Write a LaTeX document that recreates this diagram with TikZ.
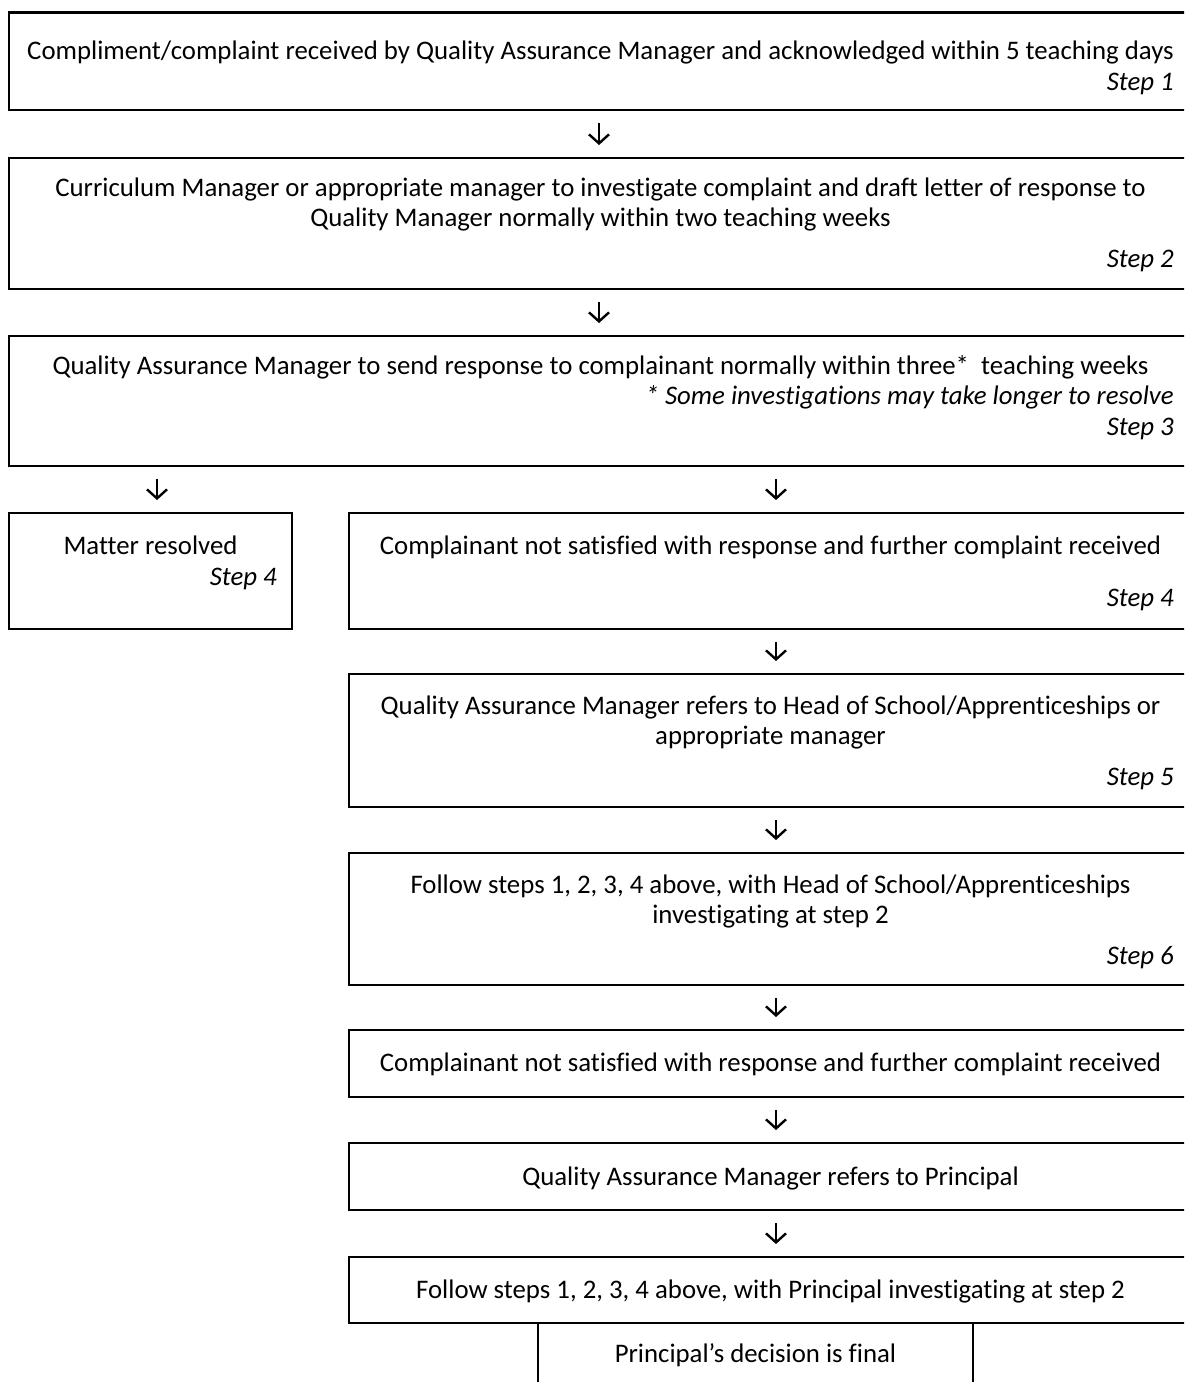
\documentclass[tikz,border=0pt]{standalone}
\usepackage{fontspec}
\setmainfont{Carlito}[Ligatures=NoCommon]
\usetikzlibrary{arrows.meta}
\newcommand\boxfont{\fontsize{26.8}{30}\selectfont}
\begin{document}
\begin{tikzpicture}[x=1pt,y=-1pt,
  box/.style={draw, line width=2.2pt, inner sep=0pt, outer sep=0pt, anchor=north west},
  txt/.style={inner sep=0pt, anchor=mid, font=\boxfont},
  stp/.style={inner sep=0pt, anchor=mid east, font=\boxfont\itshape},
  arr/.style={line width=2.4pt, -{Straight Barb[length=9pt,width=20pt]}, shorten <=13pt, shorten >=13pt}]
\useasboundingbox (0,0) rectangle (1184,1382);
\clip (0,0) rectangle (1184,1382);
% boxes
\node[box, minimum width=1183pt, minimum height=97.5pt] (b1) at (9,12.5) {};
\node[box, minimum width=1183pt, minimum height=131pt] (b2) at (9,158) {};
\node[box, minimum width=1183pt, minimum height=130pt] (b3) at (9,336) {};
\node[box, minimum width=283pt, minimum height=116pt] (b4l) at (9,513) {};
\node[box, minimum width=843pt, minimum height=116pt] (b4r) at (349,513) {};
\node[box, minimum width=843pt, minimum height=133pt] (b5) at (349,674) {};
\node[box, minimum width=843pt, minimum height=132pt] (b6) at (349,853) {};
\node[box, minimum width=843pt, minimum height=67pt] (b7) at (349,1030) {};
\node[box, minimum width=843pt, minimum height=67pt] (b8) at (349,1143) {};
\node[box, minimum width=843pt, minimum height=66pt] (b9) at (349,1257) {};
\node[box, minimum width=435pt, minimum height=77pt] (b10) at (538,1323) {};
% texts
\node[txt] (t1a) at (600.5,57) {Compliment/complaint received by Quality Assurance Manager and acknowledged within 5 teaching days};
\node[stp] (t1s) at (1174,88) {Step 1};
\node[txt] (t2a) at (600.5,194) {Curriculum Manager or appropriate manager to investigate complaint and draft letter of response to};
\node[txt] (t2b) at (600.5,224) {Quality Manager normally within two teaching weeks};
\node[stp] (t2s) at (1174,265) {Step 2};
\node[txt] (t3a) at (600.5,372) {Quality Assurance Manager to send response to complainant normally within three*\ \ teaching weeks};
\node[stp] (t3b) at (1174,402) {* Some investigations may take longer to resolve};
\node[stp] (t3s) at (1174,433) {Step 3};
\node[txt] (t4la) at (150.5,552) {Matter resolved};
\node[stp] (t4ls) at (277,583) {Step 4};
\node[txt] (t4ra) at (770.5,552) {Complainant not satisfied with response and further complaint received};
\node[stp] (t4rs) at (1174,604) {Step 4};
\node[txt] (t5a) at (770.5,712) {Quality Assurance Manager refers to Head of School/Apprenticeships or};
\node[txt] (t5b) at (770.5,742) {appropriate manager};
\node[stp] (t5s) at (1174,783) {Step 5};
\node[txt] (t6a) at (770.5,891) {Follow steps 1, 2, 3, 4 above, with Head of School/Apprenticeships};
\node[txt] (t6b) at (770.5,921) {investigating at step 2};
\node[stp] (t6s) at (1174,962) {Step 6};
\node[txt] (t7) at (770.5,1069) {Complainant not satisfied with response and further complaint received};
\node[txt] (t8) at (770.5,1183) {Quality Assurance Manager refers to Principal};
\node[txt] (t9) at (770.5,1296) {Follow steps 1, 2, 3, 4 above, with Principal investigating at step 2};
\node[txt] (t10) at (755.5,1360) {Principal’s decision is final};
% arrows
\draw[arr] ([xshift=590pt]b1.south west) -- ([xshift=590pt]b2.north west);
\draw[arr] ([xshift=590pt]b2.south west) -- ([xshift=590pt]b3.north west);
\draw[arr] ([xshift=148pt]b3.south west) -- ([xshift=148pt]b4l.north west);
\draw[arr] ([xshift=767pt]b3.south west) -- ([xshift=427pt]b4r.north west);
\draw[arr] ([xshift=427pt]b4r.south west) -- ([xshift=427pt]b5.north west);
\draw[arr] ([xshift=427pt]b5.south west) -- ([xshift=427pt]b6.north west);
\draw[arr] ([xshift=427pt]b6.south west) -- ([xshift=427pt]b7.north west);
\draw[arr] ([xshift=427pt]b7.south west) -- ([xshift=427pt]b8.north west);
\draw[arr] ([xshift=427pt]b8.south west) -- ([xshift=427pt]b9.north west);
\end{tikzpicture}
\end{document}
